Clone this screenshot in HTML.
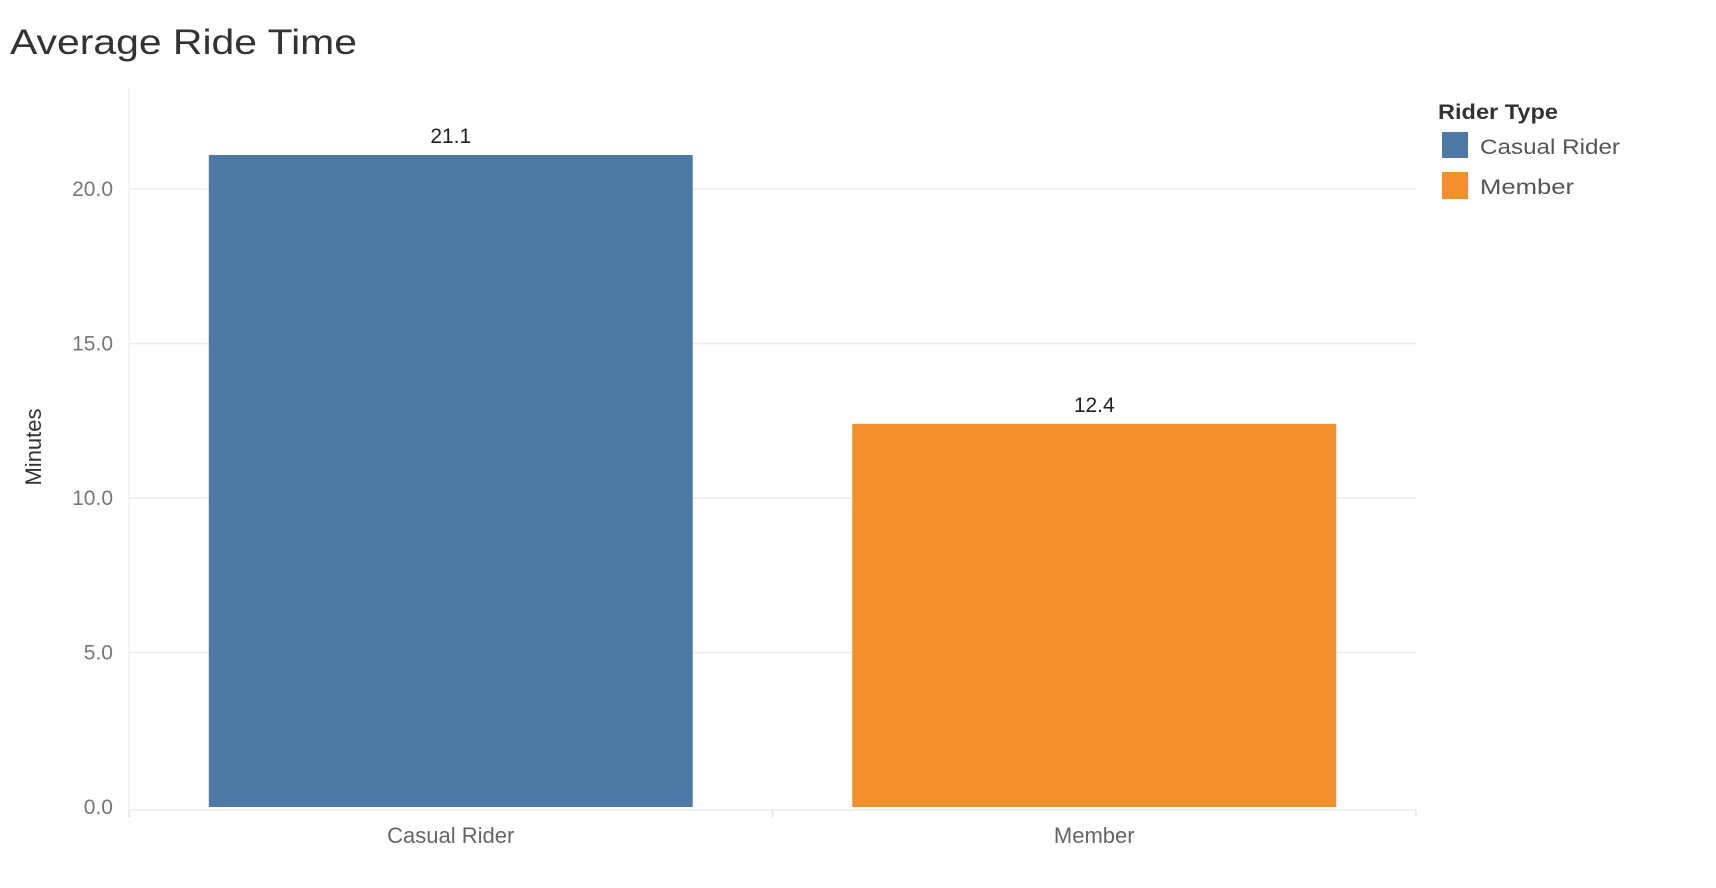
<!DOCTYPE html>
<html><head><meta charset="utf-8"><style>
body{margin:0;background:#fff;}
svg{display:block;font-family:"Liberation Sans",sans-serif;}
</style></head><body>
<svg width="1716" height="888">
<text x="10" y="54" font-size="35" fill="#333" textLength="347" lengthAdjust="spacingAndGlyphs">Average Ride Time</text>
<g id="plot"></g>
<text transform="translate(41,447) rotate(-90)" text-anchor="middle" font-size="22" fill="#333">Minutes</text>
<g>
<text x="1438" y="119" font-size="21" font-weight="bold" fill="#333" textLength="120" lengthAdjust="spacingAndGlyphs">Rider Type</text>
<rect x="1442" y="132" width="26" height="26" fill="#4e79a7"/>
<text x="1480" y="154" font-size="21" fill="#555" textLength="140" lengthAdjust="spacingAndGlyphs">Casual Rider</text>
<rect x="1442" y="172" width="26" height="27" fill="#f28e2b"/>
<text x="1480" y="194" font-size="21" fill="#555" textLength="94" lengthAdjust="spacingAndGlyphs">Member</text>
</g>
</svg>
<script>
const categories = ["Casual Rider", "Member"];
const values = [21.1, 12.4];
const valueLabels = ["21.1", "12.4"];
const colors = ["#4e79a7", "#f28e2b"];
const yTicks = [0, 5, 10, 15, 20];
const yTickLabels = ["0.0", "5.0", "10.0", "15.0", "20.0"];

const NS = "http://www.w3.org/2000/svg";
const g = document.getElementById("plot");
const L = 129, R = 1416, y0 = 807, pxPerUnit = 30.9;
const y = v => y0 - v * pxPerUnit;
const bandW = (R - L) / categories.length;
const x = i => L + bandW * i;
function mk(tag, attrs, text) {
  const e = document.createElementNS(NS, tag);
  for (const k in attrs) e.setAttribute(k, attrs[k]);
  if (text !== undefined) e.textContent = text;
  g.appendChild(e);
  return e;
}
yTicks.forEach((t, i) => {
  if (t > 0) {
    const l = mk("line", {x1: L, x2: R, y1: y(t), y2: y(t), stroke: "#ececec", "stroke-width": 1.5});
    
    
  }
  const tx = mk("text", {x: 113, y: y(t) + 7, "text-anchor": "end", "font-size": 21, fill: "#777"}, yTickLabels[i]);
  
  
});
const ax = mk("line", {x1: L, x2: L, y1: 88, y2: 817, stroke: "#f0f0f0", "stroke-width": 1.5});


const bx = mk("line", {x1: L, x2: R, y1: 810, y2: 810, stroke: "#ececec", "stroke-width": 1.5});


for (let i = 0; i <= categories.length; i++) {
  const tk = mk("line", {x1: x(i), x2: x(i), y1: 810, y2: 817, stroke: "#e4e4e4", "stroke-width": 1.5});
  
  
}
const barW = bandW * 0.752;
categories.forEach((c, i) => {
  const cx = x(i) + bandW / 2;
  const b = mk("rect", {x: cx - barW / 2, y: y(values[i]), width: barW, height: y0 - y(values[i]), fill: colors[i]});
  
  
  const vl = mk("text", {x: cx, y: y(values[i]) - 12, "text-anchor": "middle", "font-size": 21, fill: "#222"}, valueLabels[i]);
  
  
  const xl = mk("text", {x: cx, y: 843, "text-anchor": "middle", "font-size": 22, fill: "#666"}, c);
  
  
});
</script>
</body></html>
